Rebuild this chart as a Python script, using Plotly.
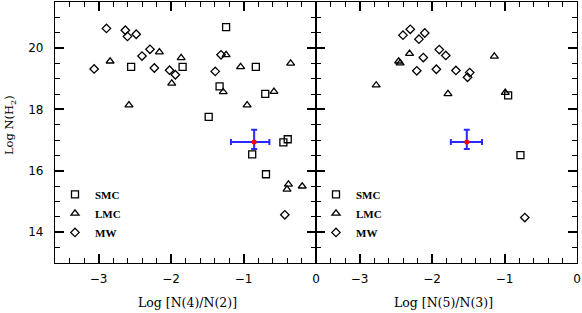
import plotly.graph_objects as go

# ---------------- data ----------------
smc_x42 = [-1.24, -2.55, -1.84, -0.83, -1.33, -0.70, -1.48, -0.39, -0.45, -0.88, -0.69]
smc_y42 = [20.68, 19.39, 19.39, 19.39, 18.75, 18.51, 17.76, 17.03, 16.93, 16.54, 15.89]
lmc_x42 = [-2.84, -2.16, -1.86, -2.58, -1.99, -1.24, -1.04, -0.35, -1.28, -0.58, -0.95, -0.38, -0.40, -0.19]
lmc_y42 = [19.57, 19.87, 19.68, 18.14, 18.85, 19.78, 19.39, 19.50, 18.57, 18.58, 18.14, 15.56, 15.40, 15.50]
mw_x42 = [-2.89, -2.63, -2.60, -2.48, -2.29, -2.40, -3.06, -2.23, -2.02, -1.94, -1.31, -1.39, -0.43]
mw_y42 = [20.64, 20.58, 20.38, 20.45, 19.96, 19.74, 19.32, 19.35, 19.28, 19.13, 19.78, 19.24, 14.57]

smc_x53 = [-0.95, -0.78]
smc_y53 = [18.46, 16.51]
lmc_x53 = [-2.31, -2.46, -2.44, -2.77, -1.78, -1.14, -0.99]
lmc_y53 = [19.82, 19.57, 19.51, 18.79, 18.51, 19.73, 18.55]
mw_x53 = [-2.30, -2.40, -2.10, -2.18, -1.90, -1.81, -2.12, -2.21, -1.94, -1.67, -1.48, -1.51, -0.72]
mw_y53 = [20.61, 20.42, 20.49, 20.29, 19.95, 19.76, 19.69, 19.26, 19.31, 19.27, 19.20, 19.05, 14.48]

obs_y = [16.94]
obs_y_plus = [0.40]
obs_y_minus = [0.23]
obs_x42 = [-0.853]
obs_x42_plus = [0.21]
obs_x42_minus = [0.32]
obs_x53 = [-1.52]
obs_x53_plus = [0.21]
obs_x53_minus = [0.22]

groups = ["SMC", "LMC", "MW"]
symbols = ["square-open", "triangle-up-open", "diamond-open"]
sizes = [7, 7, 6.5]

x_range = [-3.6, 0]
y_range = [13, 21.5]

fig = go.Figure()

left_sets = [(smc_x42, smc_y42), (lmc_x42, lmc_y42), (mw_x42, mw_y42)]
right_sets = [(smc_x53, smc_y53), (lmc_x53, lmc_y53), (mw_x53, mw_y53)]

for name, sym, sz, (xs, ys) in zip(groups, symbols, sizes, left_sets):
    fig.add_trace(go.Scatter(
        x=xs, y=ys, mode="markers", name=name, xaxis="x", yaxis="y",
        legend="legend",
        marker=dict(symbol=sym, size=sz, color="black", line=dict(width=1.3, color="black")),
    ))
for name, sym, sz, (xs, ys) in zip(groups, symbols, sizes, right_sets):
    fig.add_trace(go.Scatter(
        x=xs, y=ys, mode="markers", name=name, xaxis="x2", yaxis="y2",
        legend="legend2",
        marker=dict(symbol=sym, size=sz, color="black", line=dict(width=1.3, color="black")),
    ))

for xs, xp, xm, xa, ya in [(obs_x42, obs_x42_plus, obs_x42_minus, "x", "y"),
                           (obs_x53, obs_x53_plus, obs_x53_minus, "x2", "y2")]:
    fig.add_trace(go.Scatter(
        x=xs, y=obs_y, mode="markers", xaxis=xa, yaxis=ya, showlegend=False,
        marker=dict(symbol="circle", size=5, color="red"),
        error_x=dict(type="data", symmetric=False, array=xp, arrayminus=xm,
                     color="rgb(40,40,255)", thickness=2, width=3),
        error_y=dict(type="data", symmetric=False, array=obs_y_plus, arrayminus=obs_y_minus,
                     color="rgb(40,40,255)", thickness=2, width=3),
    ))

tickfont = dict(family="DejaVu Sans", size=12, color="black")

def xaxis_cfg(domain, anchor):
    return dict(domain=domain, anchor=anchor, range=x_range,
                tickmode="linear", tick0=0, dtick=1,
                ticks="inside", ticklen=9, tickwidth=1.5, tickcolor="#000000",
                minor=dict(dtick=0.2, tick0=0, ticks="inside", ticklen=5, tickwidth=1.2,
                           tickcolor="#000000"),
                showline=True, linewidth=1.2, linecolor="black", mirror="allticks",
                showgrid=False, zeroline=False, tickfont=tickfont, ticklabelstandoff=4)

def yaxis_cfg(anchor, labels):
    return dict(domain=[0, 1], anchor=anchor, range=y_range,
                tickmode="linear", tick0=0, dtick=2,
                ticks="inside", ticklen=9, tickwidth=1.5, tickcolor="#000000",
                minor=dict(dtick=0.5, tick0=0, ticks="inside", ticklen=5, tickwidth=1.2,
                           tickcolor="#000000"),
                showline=True, linewidth=1.2, linecolor="black", mirror="allticks",
                showgrid=False, zeroline=False, tickfont=tickfont,
                showticklabels=labels, ticklabelstandoff=8)

legend_font = dict(family="Liberation Serif", size=11, color="black", weight="bold")

fig.update_layout(
    width=582, height=313,
    margin=dict(l=55, r=5, t=2, b=50, autoexpand=False),
    paper_bgcolor="white", plot_bgcolor="white",
    xaxis=xaxis_cfg([0, 0.5], "y"),
    xaxis2=xaxis_cfg([0.5, 1], "y2"),
    yaxis=yaxis_cfg("x", True),
    yaxis2=yaxis_cfg("x2", False),
    legend=dict(x=0.0, y=0.19, xanchor="left", yanchor="middle",
                bgcolor="rgba(0,0,0,0)", font=legend_font, itemwidth=30, tracegroupgap=0),
    legend2=dict(x=0.5, y=0.19, xanchor="left", yanchor="middle",
                 bgcolor="rgba(0,0,0,0)", font=legend_font, itemwidth=30, tracegroupgap=0),
    showlegend=True,
    annotations=[
        dict(text="Log [N(4)/N(2)]", xref="paper", yref="paper", x=0.2545, y=-0.151,
             xanchor="center", yanchor="middle", showarrow=False,
             font=dict(family="DejaVu Serif", size=12.5, color="black")),
        dict(text="Log [N(5)/N(3)]", xref="paper", yref="paper", x=0.7435, y=-0.151,
             xanchor="center", yanchor="middle", showarrow=False,
             font=dict(family="DejaVu Serif", size=12.5, color="black")),
        dict(text="Log N(H<sub>2</sub>)", xref="paper", yref="paper", x=-0.087, y=0.527,
             xanchor="center", yanchor="middle", showarrow=False, textangle=-90,
             font=dict(family="DejaVu Serif", size=11.5, color="black")),
    ],
)

fig.write_html("out.html", config={"displayModeBar": False},
               post_script="document.body.style.margin='0';document.body.style.padding='0';")
